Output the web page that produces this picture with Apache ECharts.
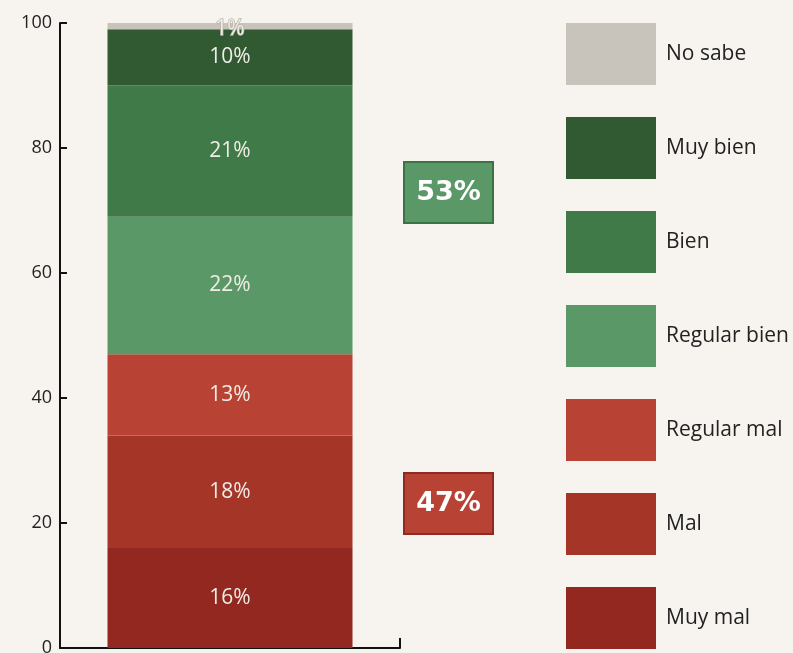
<!DOCTYPE html>
<html>
<head>
<meta charset="utf-8">
<script src="https://cdn.jsdelivr.net/npm/echarts@6/dist/echarts.min.js"></script>
<style>
  html, body { margin: 0; padding: 0; background: #f7f4ef; }
  #chart { width: 793px; height: 653px; }
</style>
</head>
<body>
<div id="chart"></div>
<script>
// bottom to top
const categories = ['Muy mal', 'Mal', 'Regular mal', 'Regular bien', 'Bien', 'Muy bien', 'No sabe']
const shares = [16, 18, 13, 22, 21, 9, 1]
const shareLabels = ['16%', '18%', '13%', '22%', '21%', '10%', '1%']
const colors = ['#922820', '#a53527', '#b84334', '#5a9868', '#3f7a48', '#315a33', '#c8c4bb']
const yTicks = [0, 20, 40, 60, 80, 100]
const totals = { good: '53%', bad: '47%' }

let chart = echarts.init(document.getElementById('chart'))

let series = categories.map(function(name, i) {
  return {
    name: name,
    type: 'bar',
    stack: 'total',
    barWidth: 245,
    itemStyle: { color: colors[i] },
    label: {
      show: true,
      position: 'inside',
      formatter: shareLabels[i],
      color: '#f0ece6',
      fontFamily: 'Open Sans',
      fontSize: 21,
      offset: i === 6 ? [0, 3] : [0, 0],
      textBorderColor: i === 6 ? '#b8b3a9' : 'transparent',
      textBorderWidth: i === 6 ? 1.5 : 0
    },
    data: [shares[i]]
  }
})

function box(left, top, text, fill, stroke) {
  return {
    type: 'group',
    left: left,
    top: top,
    children: [
      {
        type: 'rect',
        shape: { x: 0, y: 0, width: 89, height: 61 },
        style: { fill: fill, stroke: stroke, lineWidth: 2 }
      },
      {
        type: 'text',
        x: 44.5,
        y: 31,
        style: {
          text: text,
          fill: '#ffffff',
          font: 'bold 27px "DejaVu Sans"',
          align: 'center',
          verticalAlign: 'middle'
        }
      }
    ]
  }
}

chart.setOption({
  backgroundColor: '#f7f4ef',
  animation: false,
  grid: { left: 60, right: 393, top: 23, bottom: 5, outerBoundsMode: 'none' },
  legend: {
    orient: 'vertical',
    left: 566,
    top: 23,
    padding: 0,
    itemWidth: 90,
    itemHeight: 62,
    itemGap: 32,
    icon: 'rect',
    data: categories.slice().reverse(),
    textStyle: {
      fontFamily: 'Open Sans',
      fontSize: 21,
      color: '#222',
      padding: [0, 0, 0, 5]
    },
    selectedMode: false
  },
  xAxis: {
    type: 'category',
    data: [''],
    axisLine: { lineStyle: { color: '#111', width: 2 } },
    axisTick: { show: true, inside: true, length: 10, lineStyle: { color: '#111', width: 2 } },
    axisLabel: { show: false }
  },
  yAxis: {
    type: 'value',
    min: yTicks[0],
    max: yTicks[yTicks.length - 1],
    interval: 20,
    splitLine: { show: false },
    axisLine: { show: true, lineStyle: { color: '#111', width: 2 } },
    axisTick: { show: true, inside: true, length: 7, lineStyle: { color: '#111', width: 2 } },
    axisLabel: { color: '#222', fontFamily: 'Open Sans', fontSize: 18, margin: 8 }
  },
  series: series,
  graphic: [
    box(403, 161, totals.good, '#5a9868', '#3b7444'),
    box(403, 472, totals.bad, '#b84334', '#8e2a20')
  ]
})
</script>
</body>
</html>
